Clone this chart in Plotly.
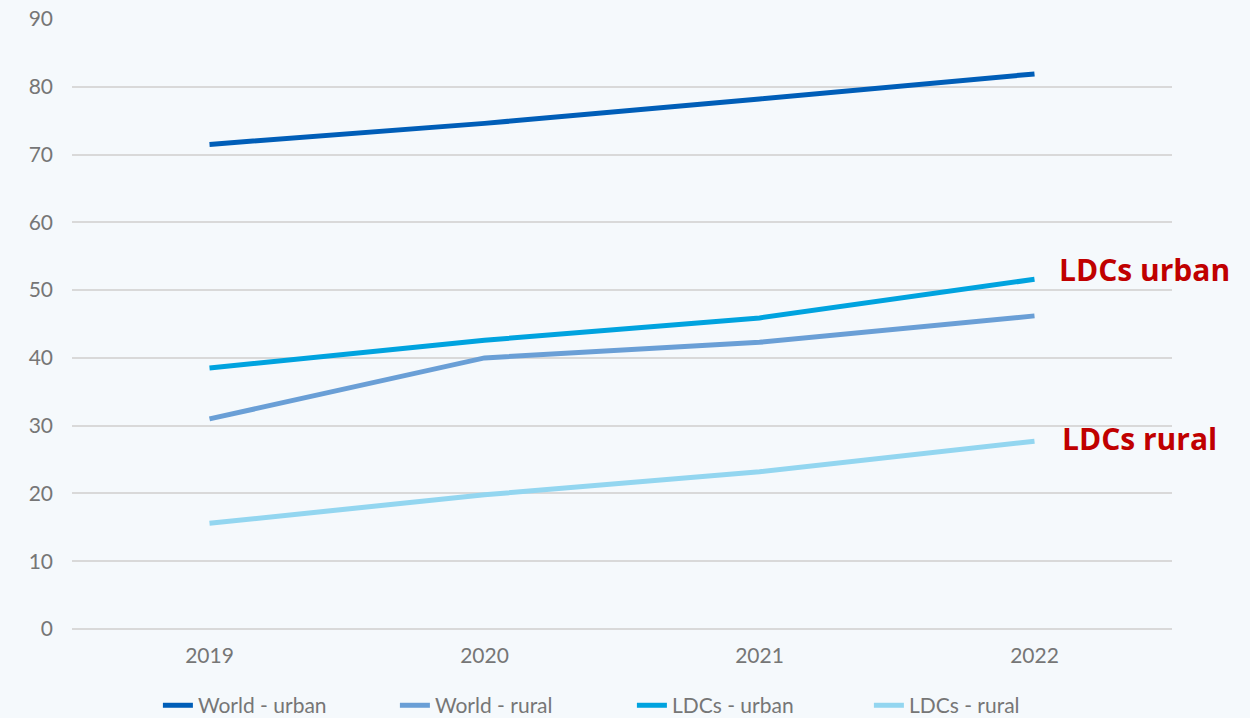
import plotly.graph_objects as go

years = ["2019", "2020", "2021", "2022"]
world_urban = [71.5, 74.6, 78.2, 81.9]
world_rural = [31.0, 40.0, 42.3, 46.2]
ldcs_urban = [38.5, 42.6, 45.9, 51.6]
ldcs_rural = [15.6, 19.8, 23.2, 27.7]

series = [
    ("World - urban", world_urban, "#005EB8"),
    ("World - rural", world_rural, "#6A9FD6"),
    ("LDCs - urban", ldcs_urban, "#00A3DF"),
    ("LDCs - rural", ldcs_rural, "#93D6F0"),
]

fig = go.Figure()
for name, vals, col in series:
    fig.add_trace(go.Scatter(x=years, y=vals, name=name, mode="lines",
                             line=dict(color=col, width=5)))

bg = "#F5F9FC"
tick_font = dict(family="Lato", size=21, color="#767676")
fig.update_layout(
    width=1250, height=718,
    paper_bgcolor=bg, plot_bgcolor=bg,
    margin=dict(l=72, r=78, t=19, b=89, autoexpand=False),
    font=dict(family="Lato", color="#767676", size=21),
    showlegend=True,
    legend=dict(orientation="h", x=0.509, xanchor="center", y=-0.092, yanchor="top",
                font=dict(family="Lato", size=21, color="#767676"),
                entrywidth=192, entrywidthmode="pixels",
                traceorder="normal", bgcolor="rgba(0,0,0,0)"),
    xaxis=dict(type="category", range=[-0.5, 3.5], showgrid=False, zeroline=False,
               showline=False, ticks="", ticklabelstandoff=12, tickfont=tick_font),
    yaxis=dict(range=[0, 90], dtick=10, showgrid=True, gridcolor="#D9D9D9", gridwidth=1.5,
               zeroline=True, zerolinecolor="#D9D9D9", zerolinewidth=1.5,
               showline=False, ticks="", ticklabelstandoff=18, tickfont=tick_font),
)

fig.add_annotation(x=3, y=ldcs_urban[-1], xref="x", yref="y", text="<b>LDCs urban</b>",
                   showarrow=False, xanchor="left", xshift=22, yshift=10,
                   font=dict(family="Open Sans", size=30, color="#C00000"))
fig.add_annotation(x=3, y=ldcs_rural[-1], xref="x", yref="y", text="<b>LDCs rural</b>",
                   showarrow=False, xanchor="left", xshift=25, yshift=3,
                   font=dict(family="Open Sans", size=30, color="#C00000"))

fig.write_html("out.html")
